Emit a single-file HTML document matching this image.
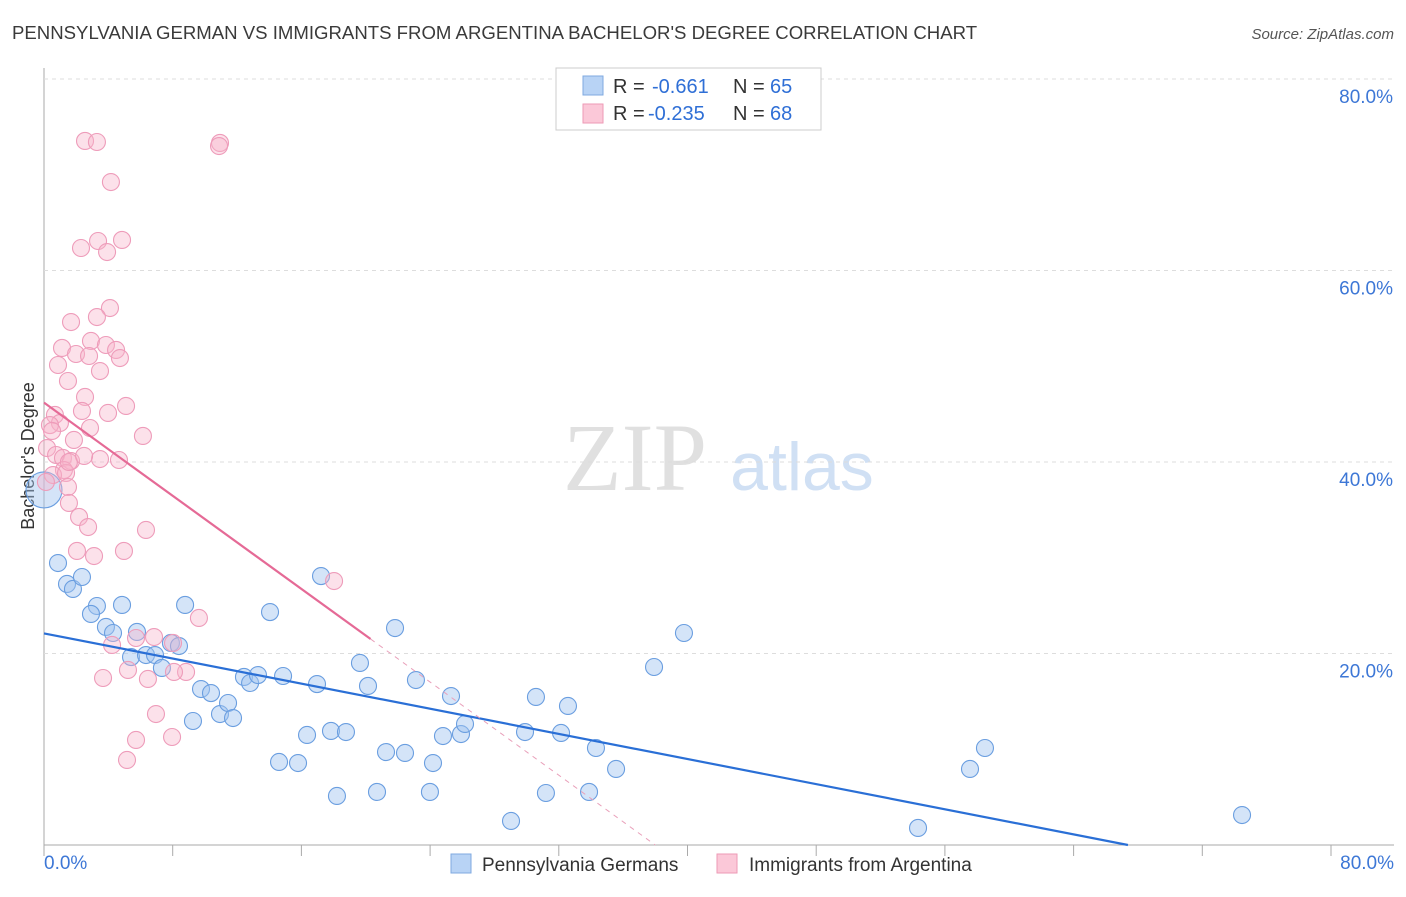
<!DOCTYPE html>
<html><head><meta charset="utf-8"><style>
body{margin:0;background:#fff;font-family:"Liberation Sans",sans-serif}
</style></head><body>
<svg id="c" width="1406" height="892" xmlns="http://www.w3.org/2000/svg">
<text x="12" y="39" font-size="18.6" fill="#3a3a3a">PENNSYLVANIA GERMAN VS IMMIGRANTS FROM ARGENTINA BACHELOR'S DEGREE CORRELATION CHART</text>
<text x="1394" y="39" font-size="15" font-style="italic" fill="#555" text-anchor="end">Source: ZipAtlas.com</text>
<text x="635" y="490" font-size="96" font-family="Liberation Serif,serif" fill="#e0e0e0" text-anchor="middle">ZIP</text>
<text x="802" y="490" font-size="68" fill="#d0e0f4" text-anchor="middle">atlas</text>
<text transform="translate(34,456) rotate(-90)" font-size="18" fill="#333" text-anchor="middle">Bachelor's Degree</text>
<g id="grid"></g><g id="pts"></g><g id="lines"></g>
<rect x="556" y="68" width="265" height="62" fill="#fff" stroke="#ccc"/>
<rect x="583" y="76" width="20" height="19" fill="#b8d3f5" stroke="#7fa9e0"/>
<rect x="583" y="104" width="20" height="19" fill="#fbc8d8" stroke="#ee9ab6"/>
<g font-size="20" fill="#333">
<text x="613" y="93">R =</text><text x="652" y="93" fill="#2f6fd6">-0.661</text><text x="733" y="93">N =</text><text x="770" y="93" fill="#2f6fd6">65</text></g>
<g font-size="20" fill="#333">
<text x="613" y="120">R =</text><text x="648" y="120" fill="#2f6fd6">-0.235</text><text x="733" y="120">N =</text><text x="770" y="120" fill="#2f6fd6">68</text></g>
<rect x="451" y="854" width="20" height="19" fill="#b8d3f5" stroke="#7fa9e0"/>
<text x="482" y="871" font-size="19" fill="#333">Pennsylvania Germans</text>
<rect x="717" y="854" width="20" height="19" fill="#fbc8d8" stroke="#ee9ab6"/>
<text x="749" y="871" font-size="19" fill="#333">Immigrants from Argentina</text>
</svg>
<script>
const yTicks=[20,40,60,80];
const yTickLabels=["20.0%","40.0%","60.0%","80.0%"];
const blueX=[0,0.87,1.43,1.80,2.36,3.29,2.92,3.85,4.29,4.85,5.41,5.78,6.34,6.90,7.33,7.89,8.39,8.77,9.26,9.76,10.38,10.94,11.44,11.75,12.43,12.81,13.30,14.05,14.86,14.61,15.79,16.35,16.97,17.22,17.84,18.21,18.77,19.64,20.14,20.70,21.26,21.82,22.44,23.12,23.99,24.18,24.80,25.30,25.92,26.17,29.03,29.90,30.58,31.20,32.14,32.57,33.88,34.31,35.56,37.92,39.78,54.33,57.56,58.49,74.47];
const blueY=[37.08,29.45,27.26,26.74,27.99,24.96,24.13,22.77,22.14,25.07,19.63,22.25,19.84,19.84,18.49,21.10,20.78,25.07,12.95,16.29,15.87,13.68,14.83,13.26,17.55,16.92,17.75,24.33,17.65,8.67,8.56,11.49,16.81,28.09,11.91,5.12,11.80,19.01,16.61,5.54,9.71,22.66,9.61,17.23,5.54,8.56,11.38,15.56,11.59,12.64,2.51,11.80,15.46,5.43,11.70,14.52,5.54,10.13,7.94,18.59,22.14,1.78,7.94,10.13,3.13];
const pinkX=[2.55,3.29,10.94,10.88,4.16,2.30,3.36,3.92,4.85,4.10,1.68,3.29,1.12,2.92,3.85,4.48,1.99,2.80,4.72,0.87,3.48,1.49,2.55,5.10,2.36,3.98,0.68,0.99,0.37,0.50,2.86,1.86,6.15,0.19,0.75,1.18,1.68,3.48,4.66,1.24,0.56,1.37,1.49,0.12,1.55,2.18,2.74,2.05,3.11,4.97,6.34,18.03,9.63,6.84,5.72,4.23,8.02,5.22,8.83,3.67,6.46,8.08,6.96,5.72,7.96,5.16,1.55,2.49];
const pinkY=[73.53,73.42,73.32,73.00,69.24,62.35,63.08,61.93,63.19,56.08,54.62,55.14,51.91,52.64,52.22,51.70,51.28,51.07,50.86,50.13,49.50,48.46,46.79,45.85,45.33,45.12,44.91,44.07,43.86,43.24,43.55,42.30,42.72,41.46,40.73,40.42,40.10,40.31,40.21,39.16,38.64,38.85,37.39,37.91,35.72,34.26,33.21,30.71,30.18,30.71,32.90,27.57,23.71,21.72,21.62,20.89,21.10,18.28,18.07,17.44,17.34,18.07,13.68,10.97,11.28,8.88,40.00,40.63];
const blueFit=[22.1,-0.328];
const pinkFit=[46.2,-1.216];
const pinkSolidEnd=20.3;
const NS="http://www.w3.org/2000/svg";
const X=v=>44+v/80*1287, Y=v=>845-v/20*191.5;
function mk(t,a,p){const e=document.createElementNS(NS,t);for(const k in a)e.setAttribute(k,a[k]);p.appendChild(e);return e;}
const g=document.getElementById('grid');
let ax=mk('line',{x1:44,y1:68,x2:44,y2:845,stroke:'#aaa'},g);


let bx=mk('line',{x1:44,y1:845,x2:1394,y2:845,stroke:'#aaa'},g);


for(let i=0;i<=10;i++){let t=mk('line',{x1:X(i*8),y1:845,x2:X(i*8),y2:856,stroke:'#aaa'},g);

}
yTicks.forEach((v,i)=>{let l=mk('line',{x1:44,y1:Y(v),x2:1394,y2:Y(v),stroke:'#ddd','stroke-dasharray':'4,4'},g);


let t=mk('text',{x:1393,y:Y(v)+24,'font-size':19,fill:'#3d77d6','text-anchor':'end'},g);t.textContent=yTickLabels[i];

});
let x0=mk('text',{x:44,y:869,'font-size':19,fill:'#3d77d6'},g);x0.textContent='0.0%';


let x1=mk('text',{x:1394,y:869,'font-size':19,fill:'#3d77d6','text-anchor':'end'},g);x1.textContent='80.0%';


const p=document.getElementById('pts');
blueX.forEach((v,i)=>{let c=mk('circle',{cx:X(v),cy:Y(blueY[i]),r:i==0?18:8.5,fill:'rgba(160,196,240,0.45)',stroke:'#6a9ee0','stroke-width':1.1},p);

});
pinkX.forEach((v,i)=>{let c=mk('circle',{cx:X(v),cy:Y(pinkY[i]),r:8.5,fill:'rgba(248,180,202,0.4)',stroke:'#ee9cba','stroke-width':1.1},p);

});
const L=document.getElementById('lines');
const bz=-blueFit[0]/blueFit[1];
let bl=mk('line',{x1:X(0),y1:Y(blueFit[0]),x2:X(bz),y2:Y(0),stroke:'#2a6fd6','stroke-width':2.2},L);


let pl=mk('line',{x1:X(0),y1:Y(pinkFit[0]),x2:X(pinkSolidEnd),y2:Y(pinkFit[0]+pinkFit[1]*pinkSolidEnd),stroke:'#e56a96','stroke-width':2.2},L);


const pz=-pinkFit[0]/pinkFit[1];
let pd=mk('line',{x1:X(pinkSolidEnd),y1:Y(pinkFit[0]+pinkFit[1]*pinkSolidEnd),x2:X(pz),y2:Y(0),stroke:'#e9a0ba','stroke-width':1,'stroke-dasharray':'5,5'},L);


</script>
</body></html>
